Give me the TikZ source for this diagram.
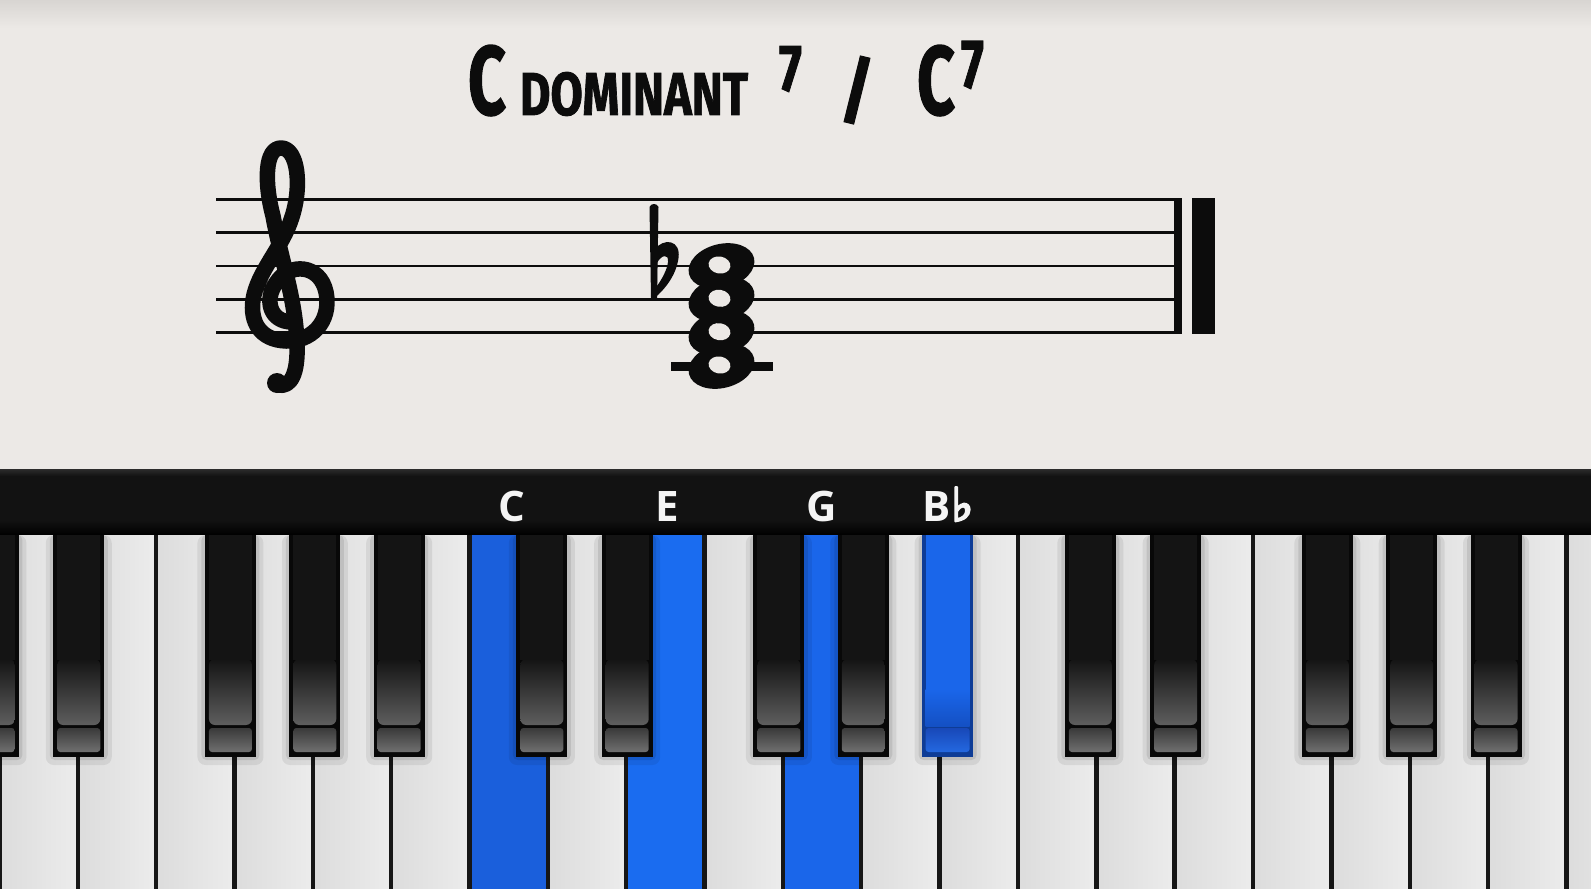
\documentclass[tikz,border=0pt]{standalone}
\usepackage{fontspec}
\usepackage{graphicx}
\setmainfont{Fira Sans}
\newfontfamily\titlefont{Fira Sans}[FakeBold=1.5]
\newfontfamily\keyfont{Open Sans}
\newfontfamily\flatfont{DejaVu Sans}[FakeBold=5]
\definecolor{paper}{HTML}{ECE9E6}
\definecolor{papertop}{HTML}{D8D5D2}
\definecolor{ink}{HTML}{0C0C0C}
\definecolor{barblack}{HTML}{121212}
\definecolor{bartop}{HTML}{2A2A2A}
\definecolor{sep}{HTML}{161616}
\definecolor{wkL}{HTML}{DCDCDC}
\definecolor{wkM}{HTML}{F6F6F6}
\definecolor{wkR}{HTML}{ECECEC}
\definecolor{blueC}{HTML}{1A5FDC}
\definecolor{blueE}{HTML}{1A6CF0}
\definecolor{blueG}{HTML}{1A66EA}
\definecolor{bkedge}{HTML}{080808}
\definecolor{bkbody}{HTML}{141414}
\definecolor{bkgray}{HTML}{5E5E5E}
\definecolor{bkbevA}{HTML}{3A3A3A}
\definecolor{bkbevB}{HTML}{707070}
\definecolor{buedge}{HTML}{0E3C96}
\definecolor{bubody}{HTML}{1A66EA}
\definecolor{budark}{HTML}{1450C4}
\definecolor{bubevA}{HTML}{1848B8}
\definecolor{bubevB}{HTML}{2468E0}
\definecolor{labelwhite}{HTML}{F4F4F4}
\tikzset{
  staffline/.style={draw=ink, line width=2.8pt},
  clefstroke/.style={draw=ink, line width=15.5pt, line cap=round, line join=round},
  titletext/.style={inner sep=0pt, outer sep=0pt, anchor=north west, text=ink, font=\titlefont\bfseries},
  keylabel/.style={inner sep=0pt, anchor=base, text=labelwhite, font=\keyfont\bfseries\fontsize{42}{42}\selectfont},
}
\newcommand\mykey[2]{%
  \ifnum#2=1
    \fill[buedge] (#1-25.5,535) rectangle (#1+25.5,757);
    \fill[bubody] (#1-22,535) rectangle (#1+22,690);
    \shade[top color=bubody, bottom color=budark] (#1-22,689) rectangle (#1+22,726);
    \shade[top color=bubevA, bottom color=bubevB, rounded corners=3pt] (#1-22,728) rectangle (#1+22,752);
  \else
    \fill[bkedge] (#1-25.5,535) rectangle (#1+25.5,757);
    \fill[bkbody] (#1-21.5,535) rectangle (#1+21.5,660);
    \shade[top color=bkbody, bottom color=bkgray, rounded corners=6pt] (#1-21.5,659) rectangle (#1+21.5,725);
    \shade[top color=bkbevA, bottom color=bkbevB, rounded corners=3pt] (#1-21.5,728) rectangle (#1+21.5,752);
  \fi}
\begin{document}
\begin{tikzpicture}[x=1pt,y=-1pt]
\useasboundingbox (0,0) rectangle (1591,889);
% paper
\fill[paper] (0,0) rectangle (1591,472);
\shade[top color=papertop, bottom color=paper] (0,0) rectangle (1591,28);
% title
\node[titletext] (t1) at (468,45) {\resizebox*{38pt}{71pt}{C}};
\node[titletext] (t2) at (520,72) {\resizebox*{228pt}{44pt}{DOMINANT}};
\node[titletext] (t3) at (779,46) {\resizebox*{23pt}{46pt}{7}};
\node[titletext] (t4) at (839,56) {\resizebox*{36pt}{68pt}{/}};
\node[titletext] (t5) at (917,45) {\resizebox*{38pt}{71pt}{C}};
\node[titletext] (t6) at (961,41) {\resizebox*{23pt}{48pt}{7}};
% staff
\foreach \y in {199.3,232.7,266,299.3,332.7} \draw[staffline] (216,\y) -- (1174,\y);
\fill[ink] (1174,198) rectangle (1182,334.2);
\fill[ink] (1192,198) rectangle (1215,334.2);
% treble clef
\draw[clefstroke] (292,322) .. controls (270,322) and (264,300) .. (276,283)
  .. controls (289,262) and (320,264) .. (326,292)
  .. controls (332,323) and (310,342) .. (286,341)
  .. controls (260,340) and (250,322) .. (253,300)
  .. controls (257,272) and (283,247) .. (292,217)
  .. controls (302,186) and (298,148) .. (281,148)
  .. controls (265,148) and (264,182) .. (273,216)
  .. controls (281,260) and (296,300) .. (297,345)
  .. controls (298,373) and (291,388) .. (278,385);
\fill[ink] (277,383) circle[radius=10];
% flat
\fill[ink] (649.5,207) .. controls (651,203) and (657,203) .. (658.5,207) -- (657,298) -- (651,298) -- cycle;
\fill[ink,even odd rule] (654,250) .. controls (664,237) and (681,240) .. (678.5,258)
   .. controls (676,277) and (663,291) .. (653,299.5) -- cycle
   (657,263) .. controls (661,255) and (669,253) .. (668,262)
   .. controls (667,270) and (662,279) .. (657,286) -- cycle;
% chord
\fill[ink] (671,362) rectangle (773,371);
\foreach \y in {266,299.3,332.7,366} \fill[ink,shift={(721.5,\y)},rotate=14] (0,0) ellipse[x radius=33.5,y radius=22];
\foreach \y in {265,298.3,331.7,365} \fill[paper,shift={(719.5,\y)},rotate=-10] (0,0) ellipse[x radius=11,y radius=8.5];
% keyboard bar
\fill[barblack] (0,470) rectangle (1591,535);
\shade[top color=bartop, bottom color=barblack] (0,469.5) rectangle (1591,476);
\shade[top color=barblack, bottom color=black] (0,520) rectangle (1591,535);
% white keys
\foreach \k in {-7,...,14} {
  \pgfmathsetmacro\xa{469.5+78.35*\k}
  \shade[left color=wkL, middle color=wkM, right color=wkR] (\xa,535) rectangle (\xa+78.35,889);
}
\fill[blueC] (469.5,535) rectangle (547.85,889);
\fill[blueE] (626.2,535) rectangle (704.55,889);
\fill[blueG] (782.9,535) rectangle (861.25,889);
\foreach \k in {-7,...,15} {
  \pgfmathsetmacro\xa{469.5+78.35*\k}
  \fill[sep] (\xa-2.2,535) rectangle (\xa+2.2,889);
}
% black key shadows
\foreach \k in {-7,0,7} {
  \foreach \j/\o in {1/-6,2/1,4/-4,5/2,6/8} {
    \pgfmathsetmacro\cx{469.5+78.35*(\k+\j)+\o}
    \fill[black,opacity=0.07,rounded corners=8pt] (\cx-33,535) rectangle (\cx+33,765);
    \fill[black,opacity=0.09,rounded corners=5pt] (\cx-29,535) rectangle (\cx+29,760);
  }
}
% black keys
\foreach \k in {-7,0,7} {
  \foreach \j/\o in {1/-6,2/1,4/-4,5/2,6/8} {
    \pgfmathsetmacro\cx{469.5+78.35*(\k+\j)+\o}
    \pgfmathtruncatemacro\isbb{(\k==0)&&(\j==6)}
    \mykey{\cx}{\isbb}
  }
}
% labels
\node[keylabel] (lc) at (512,521) {C};
\node[keylabel] (le) at (667,521) {E};
\node[keylabel] (lg) at (822,521) {G};
\node[keylabel] (lb) at (948,521) {B\kern0.5pt{\flatfont\bfseries\fontsize{46}{46}\selectfont ♭}};
\end{tikzpicture}
\end{document}
